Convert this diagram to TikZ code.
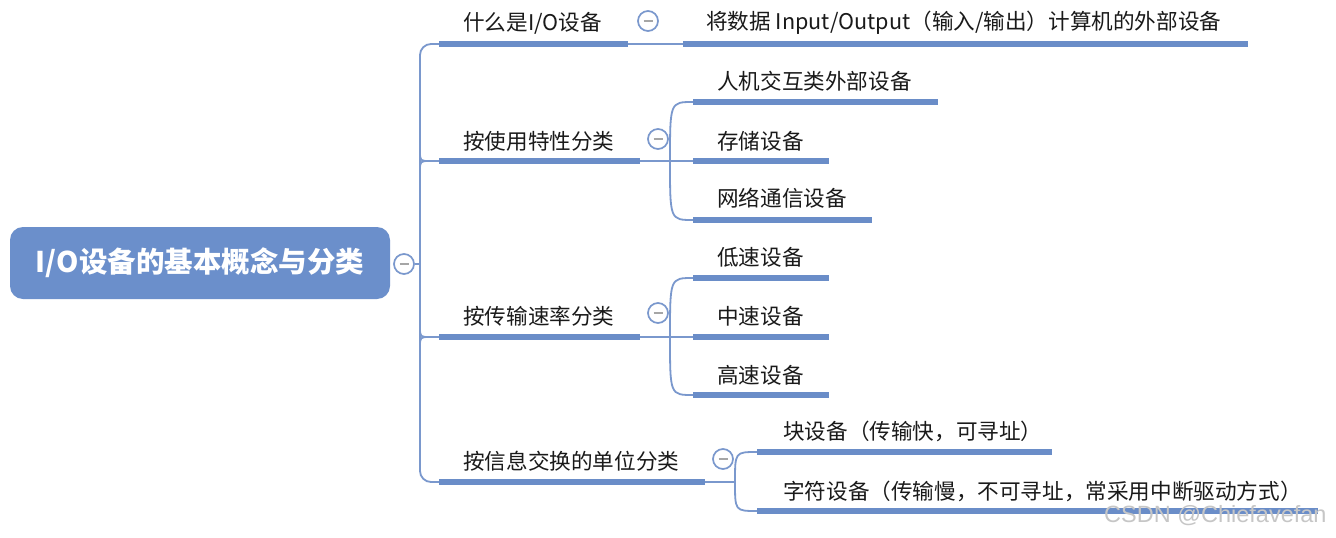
\documentclass[tikz,border=0pt]{standalone}
\usepackage{fontspec}
\setmainfont{Noto Sans CJK SC}
\newfontfamily\wmfont{Liberation Sans}
\definecolor{ulc}{HTML}{6A8DC8}
\definecolor{lnc}{HTML}{7A98CD}
\definecolor{rootc}{HTML}{6B8FCB}
\definecolor{txt}{HTML}{1A1A1A}
\begin{document}
\begin{tikzpicture}[x=1pt,y=-1pt,
  lbl/.style={anchor=west,inner sep=0pt,text=txt,font=\fontsize{21.6}{25}\selectfont},
  uline/.style={line width=5.5pt,draw=ulc},
  conn/.style={line width=1.8pt,draw=lnc},
  tog/.style={circle,draw=lnc,line width=1.7pt,fill=white,minimum size=20pt,inner sep=0pt,
    path picture={\draw[line width=1.7pt,draw=gray!70] ([xshift=-4.5pt]path picture bounding box.center) -- ([xshift=4.5pt]path picture bounding box.center);}},
  root/.style={rounded corners=13pt,fill=rootc,text=white,minimum width=380pt,minimum height=72pt,inner sep=0pt,
    font=\fontsize{28.5}{33}\selectfont\bfseries}
]
\useasboundingbox[fill=white] (0,0) rectangle (1336,538);

% root
\node[root] (root) at (200,263) {I/O设备的基本概念与分类};
\node[tog] (t0) at (404,264) {};
\coordinate (tr) at (420,264);
\draw[conn] (t0.east) -- (tr);

% branch start/end coordinates
\coordinate (b1s) at (439,44);  \coordinate (b1e) at (628,44);
\coordinate (b2s) at (439,161); \coordinate (b2e) at (640,161);
\coordinate (b3s) at (439,337); \coordinate (b3e) at (640,337);
\coordinate (b4s) at (439,482); \coordinate (b4e) at (705,482);

% trunk
\draw[conn,rounded corners=11pt] (b1s) -- (420,44) -- (420,482) -- (b4s);
\draw[conn] (420,151) .. controls (420,161) .. (430,161) -- (b2s);
\draw[conn] (420,171) .. controls (420,161) .. (430,161);
\draw[conn] (420,327) .. controls (420,337) .. (430,337) -- (b3s);
\draw[conn] (420,347) .. controls (420,337) .. (430,337);

% level-1 labels and underlines
\node[lbl] (n1) at (463,23) {什么是I/O设备};
\node[lbl] (n2) at (463,141) {按使用特性分类};
\node[lbl] (n3) at (463,316) {按传输速率分类};
\node[lbl] (n4) at (463,461) {按信息交换的单位分类};
\draw[uline] (b1s) -- (b1e);
\draw[uline] (b2s) -- (b2e);
\draw[uline] (b3s) -- (b3e);
\draw[uline] (b4s) -- (b4e);
\node[tog] (t1) at (648,21) {};
\node[tog] (t2) at (658,139) {};
\node[tog] (t3) at (658,313) {};
\node[tog] (t4) at (723,459) {};

% branch 1 child
\coordinate (c11s) at (683,44); \coordinate (c11e) at (1248,44);
\draw[conn] (b1e) -- (c11s);
\draw[uline] (c11s) -- (c11e);
\node[lbl] (m11) at (706,23) {将数据 Input/Output（输入/输出）计算机的外部设备};

% branch 2 children
\coordinate (j2) at (670,161);
\coordinate (c21s) at (693,102); \coordinate (c21e) at (938,102);
\coordinate (c22s) at (693,161); \coordinate (c22e) at (829,161);
\coordinate (c23s) at (693,220); \coordinate (c23e) at (872,220);
\draw[conn] (b2e) -- (c22s);
\draw[conn] (j2) .. controls (670,102) .. (c21s);
\draw[conn] (j2) .. controls (670,220) .. (c23s);
\draw[uline] (c21s) -- (c21e);
\draw[uline] (c22s) -- (c22e);
\draw[uline] (c23s) -- (c23e);
\node[lbl] (m21) at (717,81) {人机交互类外部设备};
\node[lbl] (m22) at (717,141) {存储设备};
\node[lbl] (m23) at (717,198) {网络通信设备};

% branch 3 children
\coordinate (j3) at (670,337);
\coordinate (c31s) at (693,278); \coordinate (c31e) at (829,278);
\coordinate (c32s) at (693,337); \coordinate (c32e) at (829,337);
\coordinate (c33s) at (693,395); \coordinate (c33e) at (829,395);
\draw[conn] (b3e) -- (c32s);
\draw[conn] (j3) .. controls (670,278) .. (c31s);
\draw[conn] (j3) .. controls (670,395) .. (c33s);
\draw[uline] (c31s) -- (c31e);
\draw[uline] (c32s) -- (c32e);
\draw[uline] (c33s) -- (c33e);
\node[lbl] (m31) at (717,257) {低速设备};
\node[lbl] (m32) at (717,316) {中速设备};
\node[lbl] (m33) at (717,375) {高速设备};

% branch 4 children
\coordinate (j4) at (735,482);
\coordinate (c41s) at (757,452); \coordinate (c41e) at (1052,452);
\coordinate (c42s) at (757,511); \coordinate (c42e) at (1318,511);
\draw[conn] (b4e) -- (j4);
\draw[conn] (j4) .. controls (735,452) .. (c41s);
\draw[conn] (j4) .. controls (735,511) .. (c42s);
\draw[uline] (c41s) -- (c41e);
\draw[uline] (c42s) -- (c42e);
\node[lbl] (m41) at (783,431) {块设备（传输快，可寻址）};
\node[lbl] (m42) at (783,491) {字符设备（传输慢，不可寻址，常采用中断驱动方式）};

% watermark
\node[anchor=west,inner sep=0pt,text=gray!45,font=\wmfont\fontsize{23.5}{26}\selectfont] (wm) at (1104,516) {CSDN @Chiefavefan};
\end{tikzpicture}
\end{document}
